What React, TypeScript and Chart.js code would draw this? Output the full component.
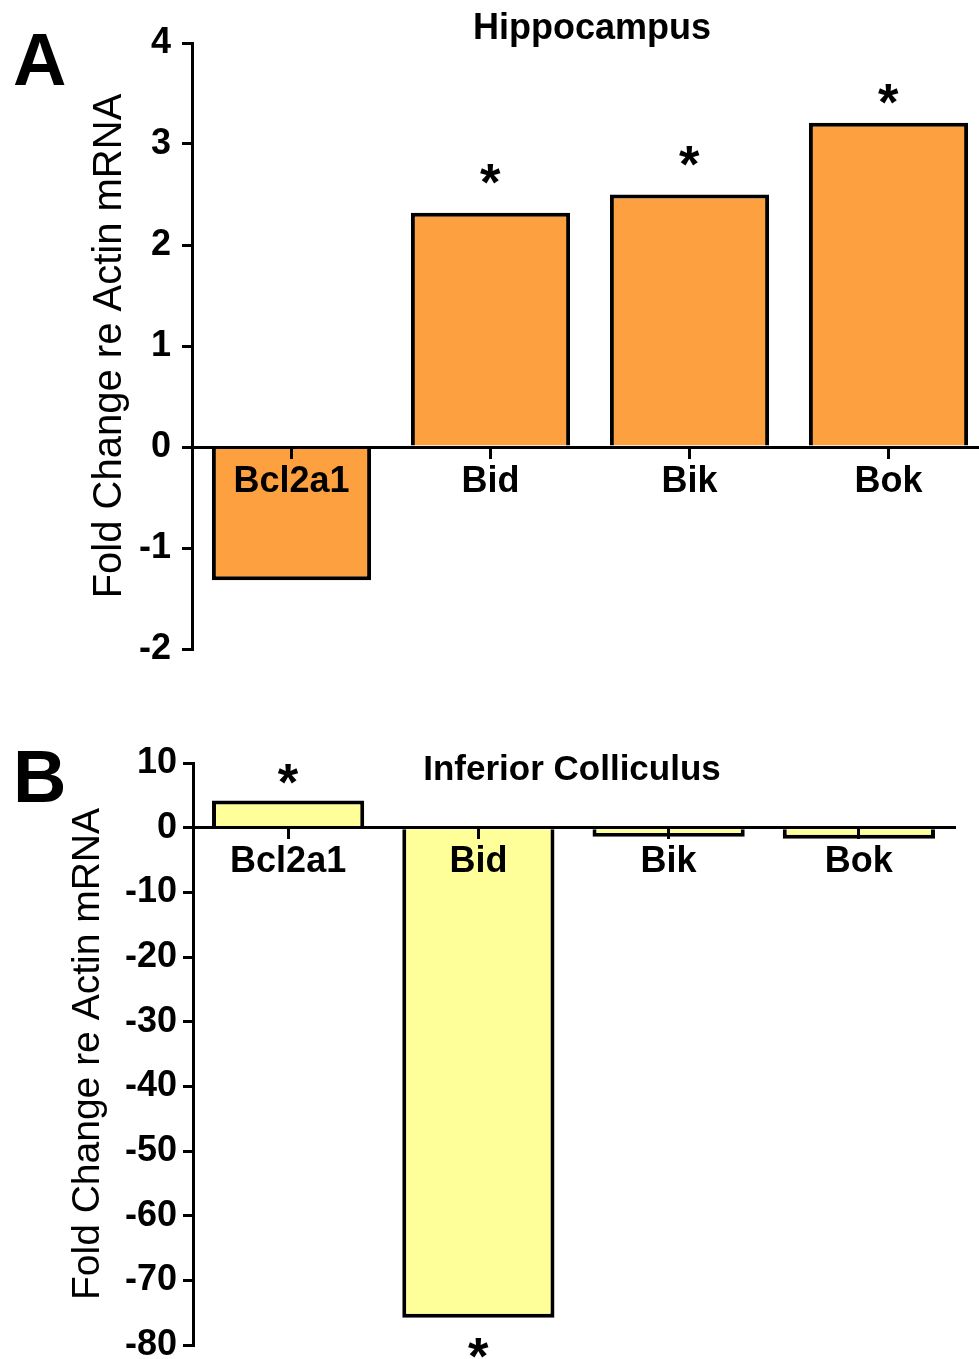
import React, { useEffect, useRef } from "react";
import { Chart, registerables } from "chart.js";

Chart.register(...registerables);

const FONT = "'Liberation Sans', Arial, Helvetica, sans-serif";

// ---- data ----
const genes = ["Bcl2a1", "Bid", "Bik", "Bok"];

const hippocampusValues = [-1.32, 2.32, 2.5, 3.21];
const hippocampusStarLevels = [null, 2.7, 2.88, 3.5];
const hippocampusRange = [-2, 4];
const hippocampusStep = 1;

const colliculusValues = [4.2, -75.8, -1.4, -1.7];
const colliculusStarLevels = [8.3, -80.4, null, null];
const colliculusRange = [-80, 10];
const colliculusStep = 10;

const yTitle = "Fold Change re Actin mRNA";
const hippocampusTitle = "Hippocampus";
const colliculusTitle = "Inferior Colliculus";

type Annot = {
  letter: string;
  letterX: number;
  letterY: number;
  title: string;
  titleX: number;
  titleY: number;
  titleSize: number;
  stars: (number | null)[];
  starHeight: number;
};

function makeAnnotate(a: Annot) {
  return {
    id: "annotate",
    afterDraw(chart: any) {
      const ctx = chart.ctx as CanvasRenderingContext2D;
      ctx.save();
      ctx.fillStyle = "#000";
      ctx.textBaseline = "alphabetic";
      ctx.textAlign = "left";
      ctx.font = `bold 74px ${FONT}`;
      ctx.fillText(a.letter, a.letterX, a.letterY);

      ctx.textAlign = "center";
      ctx.font = `bold ${a.titleSize}px ${FONT}`;
      ctx.fillText(a.title, a.titleX, a.titleY);

      const xs = chart.scales.x;
      const ys = chart.scales.y;
      ctx.textAlign = "left";
      ctx.font = `bold 100px ${FONT}`;
      const m0 = ctx.measureText("*");
      const h0 = m0.actualBoundingBoxAscent + m0.actualBoundingBoxDescent;
      const size = (100 * a.starHeight) / (h0 || 30);
      ctx.font = `bold ${size}px ${FONT}`;
      const m = ctx.measureText("*");
      a.stars.forEach((v, i) => {
        if (v === null || v === undefined) return;
        const cx = xs.getPixelForValue(i);
        const cy = ys.getPixelForValue(v);
        const bx = cx - (m.actualBoundingBoxRight - m.actualBoundingBoxLeft) / 2;
        const by = cy + (m.actualBoundingBoxAscent - m.actualBoundingBoxDescent) / 2;
        ctx.fillText("*", bx, by);
      });
      ctx.restore();
    },
  };
}

function buildConfig(opts: {
  values: number[];
  color: string;
  range: number[];
  step: number;
  padding: { left: number; right: number; top: number; bottom: number };
  axisWidth: number;
  titleSize: number;
  titlePad: number;
  tickPad: number;
  annot: Annot;
}) {
  const black = "#000";
  return {
    type: "bar" as const,
    data: {
      labels: genes,
      datasets: [
        {
          data: opts.values,
          backgroundColor: opts.color,
          borderColor: black,
          borderWidth: 4,
          borderSkipped: "start",
          categoryPercentage: 0.8,
          barPercentage: 1.0,
        },
      ],
    },
    options: {
      responsive: false,
      maintainAspectRatio: false,
      animation: false,
      devicePixelRatio: 1,
      events: [],
      layout: { padding: opts.padding },
      plugins: {
        legend: { display: false },
        tooltip: { enabled: false },
        title: { display: false },
      },
      scales: {
        x: {
          type: "category",
          position: { y: 0 },
          offset: true,
          grid: {
            offset: false,
            drawOnChartArea: false,
            drawTicks: true,
            tickLength: 10,
            lineWidth: 3,
            color: black,
            z: 1,
          },
          border: { display: true, color: black, width: 3, z: 1 },
          ticks: {
            color: black,
            font: { family: FONT, size: 36, weight: "bold" },
            padding: 3,
            maxRotation: 0,
            autoSkip: false,
            z: 1,
          },
        },
        y: {
          type: "linear",
          position: "left",
          min: opts.range[0],
          max: opts.range[1],
          afterFit: (s: any) => {
            s.width = opts.axisWidth;
          },
          grid: {
            drawOnChartArea: false,
            drawTicks: true,
            tickLength: 10,
            lineWidth: 3,
            color: black,
            z: 1,
          },
          border: { display: true, color: black, width: 3, z: 1 },
          ticks: {
            stepSize: opts.step,
            color: black,
            font: { family: FONT, size: 36, weight: "bold" },
            padding: opts.tickPad,
            z: 1,
          },
          title: {
            display: true,
            text: yTitle,
            color: black,
            font: { family: FONT, size: opts.titleSize, weight: "normal" },
            padding: { top: opts.titlePad, bottom: 0 },
          },
        },
      },
    },
    plugins: [makeAnnotate(opts.annot)],
  };
}

export default function App() {
  const refA = useRef<HTMLCanvasElement | null>(null);
  const refB = useRef<HTMLCanvasElement | null>(null);

  useEffect(() => {
    const charts: Chart[] = [];
    if (refA.current) {
      charts.push(
        new Chart(
          refA.current,
          buildConfig({
            values: hippocampusValues,
            color: "#FDA040",
            range: hippocampusRange,
            step: hippocampusStep,
            padding: { left: 0, right: 2, top: 43, bottom: 51 },
            axisWidth: 192,
            titleSize: 40,
            titlePad: 86,
            tickPad: 11,
            annot: {
              letter: "A",
              letterX: 13,
              letterY: 85,
              title: hippocampusTitle,
              titleX: 592,
              titleY: 39,
              titleSize: 36,
              stars: hippocampusStarLevels,
              starHeight: 20,
            },
          }) as any
        )
      );
    }
    if (refB.current) {
      charts.push(
        new Chart(
          refB.current,
          buildConfig({
            values: colliculusValues,
            color: "#FFFF99",
            range: colliculusRange,
            step: colliculusStep,
            padding: { left: 0, right: 25, top: 63, bottom: 55 },
            axisWidth: 193,
            titleSize: 39,
            titlePad: 65,
            tickPad: 6,
            annot: {
              letter: "B",
              letterX: 13,
              letterY: 102,
              title: colliculusTitle,
              titleX: 572,
              titleY: 80,
              titleSize: 35,
              stars: colliculusStarLevels,
              starHeight: 20,
            },
          }) as any
        )
      );
    }
    return () => {
      charts.forEach((c) => c.destroy());
    };
  }, []);

  return (
    <div
      style={{
        position: "absolute",
        left: 0,
        top: 0,
        width: 979,
        height: 1359,
        overflow: "hidden",
        background: "#fff",
      }}
    >
      <canvas
        ref={refA}
        width={990}
        height={700}
        style={{ position: "absolute", left: 0, top: 0, width: 990, height: 700 }}
      />
      <canvas
        ref={refB}
        width={979}
        height={700}
        style={{ position: "absolute", left: 0, top: 700, width: 979, height: 700 }}
      />
    </div>
  );
}
